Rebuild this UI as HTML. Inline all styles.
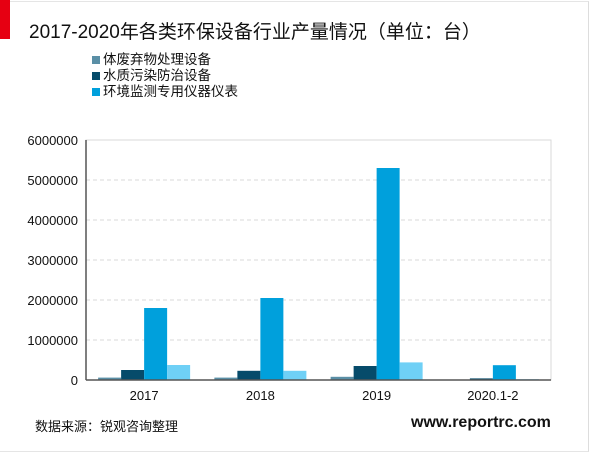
<!DOCTYPE html>
<html><head><meta charset="utf-8"><style>
body{margin:0;width:600px;height:452px;background:#fff;position:relative;overflow:hidden;font-family:"Liberation Sans","Noto Sans CJK SC",sans-serif}
.abs{position:absolute}
</style></head><body>
<div class="abs" style="left:0;top:1px;width:588px;height:449px;border-right:1px solid #ddd;border-top:1px solid #e5e5e5;border-bottom:1px solid #e5e5e5"></div>
<div class="abs" style="left:0;top:0;width:10px;height:39px;background:#e60012"></div>
<div class="abs" style="left:29px;top:17px;font-size:19px;color:#111;white-space:nowrap">2017-2020年各类环保设备行业产量情况（单位：台）</div>
<div class="abs" style="left:92px;top:52px;font-size:13.5px;line-height:16px;color:#111">
<div><span style="display:inline-block;width:8px;height:8px;background:#5a8fa6;margin-right:3px"></span>体废弃物处理设备</div>
<div><span style="display:inline-block;width:8px;height:8px;background:#064b6a;margin-right:3px"></span>水质污染防治设备</div>
<div><span style="display:inline-block;width:8px;height:8px;background:#00a0dc;margin-right:3px"></span>环境监测专用仪器仪表</div>
</div>
<svg class="abs" style="left:0;top:0" width="600" height="452" id="chart"></svg>
<div class="abs" style="left:35px;top:416px;font-size:13px;color:#111">数据来源：锐观咨询整理</div>
<div class="abs" style="left:411px;top:414px;font-size:16px;font-weight:bold;color:#111">www.reportrc.com</div>
<script>
const categories=["2017","2018","2019","2020.1-2"];
const solidWaste=[60000,60000,80000,5000];
const waterPollution=[250000,230000,350000,40000];
const envMonitoring=[1800000,2050000,5300000,370000];
const otherSeries=[375000,230000,440000,20000];
const yTicks=[0,1000000,2000000,3000000,4000000,5000000,6000000];
const series=[solidWaste,waterPollution,envMonitoring,otherSeries];
const colors=["#5a8fa6","#064b6a","#00a0dc","#6fd0f6"];
const names=["solid-waste","water-pollution","env-monitoring","other"];
const svg=document.getElementById('chart');const NS='http://www.w3.org/2000/svg';
const L=86,R=551,T=140,B=380,yMax=6000000;
const y=v=>B-(v/yMax)*(B-T);
const gw=(R-L)/categories.length,bw=23;
function el(t,a){const e=document.createElementNS(NS,t);for(const k in a)e.setAttribute(k,a[k]);svg.appendChild(e);return e;}
const fr=el('rect',{x:L,y:T,width:R-L,height:B-T,fill:'none',stroke:'#d9d9d9','stroke-width':1});


yTicks.forEach(v=>{
 if(v>0&&v<yMax){const g=el('line',{x1:L,x2:R,y1:y(v),y2:y(v),stroke:'#d9d9d9','stroke-dasharray':'4,3'});
 
 }
 const t=el('text',{x:78,y:y(v)+5,'text-anchor':'end','font-size':13,fill:'#111'});t.textContent=v;
 
 
});
categories.forEach((c,i)=>{
 const cx=L+gw*(i+0.5);
 series.forEach((s,j)=>{
  const r=el('rect',{x:cx-2*bw+j*bw,y:y(s[i]),width:bw,height:B-y(s[i]),fill:colors[j]});
  
  
 });
 const t=el('text',{x:cx,y:B+20,'text-anchor':'middle','font-size':13,fill:'#111'});t.textContent=c;
 
 
});
const ax=el('line',{x1:L,x2:R,y1:B,y2:B,stroke:'#555','stroke-width':1.5});


const ay=el('line',{x1:L,x2:L,y1:T,y2:B,stroke:'#555','stroke-width':1.5});


</script>
</body></html>
